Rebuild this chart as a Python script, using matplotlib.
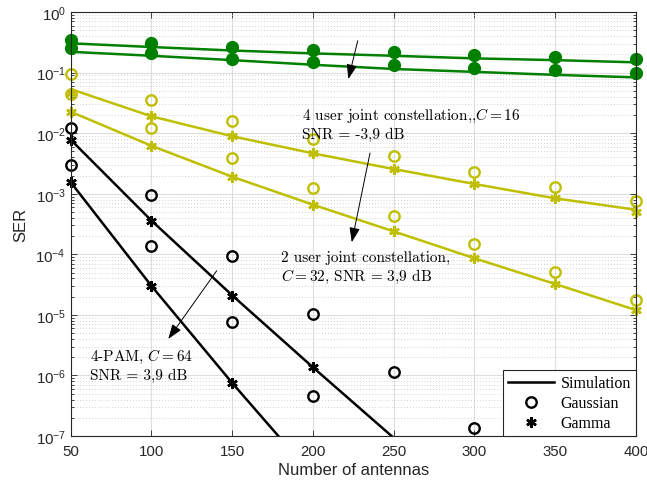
import numpy as np
import matplotlib

matplotlib.use("Agg")
import matplotlib.pyplot as plt
from matplotlib.lines import Line2D
from matplotlib.ticker import LogLocator, NullFormatter

plt.rcParams["font.family"] = ["Liberation Sans", "DejaVu Sans"]
plt.rcParams["mathtext.fontset"] = "custom"
plt.rcParams["mathtext.rm"] = "Liberation Sans"
plt.rcParams["mathtext.it"] = "Liberation Sans:italic"

antennas = np.array([50, 100, 150, 200, 250, 300, 350, 400])

# 4 user joint constellation, C = 16, SNR = -3.9 dB (two curves)
c16_sim_a = [0.305, 0.265, 0.232, 0.208, 0.190, 0.172, 0.161, 0.148]
c16_pts_a = [0.349, 0.304, 0.261, 0.239, 0.216, 0.195, 0.183, 0.168]
c16_sim_b = [0.221, 0.190, 0.161, 0.135, 0.115, 0.103, 0.092, 0.0835]
c16_pts_b = [0.251, 0.208, 0.168, 0.151, 0.133, 0.119, 0.109, 0.098]

# 2 user joint constellation, C = 32, SNR = 3.9 dB
c32_sim_a = [0.0535, 0.019, 8.9e-3, 4.65e-3, 2.56e-3, 1.45e-3, 8.4e-4, 5.45e-4]
c32_gauss_a = [0.0947, 0.0357, 0.0160, 8.0e-3, 4.24e-3, 2.31e-3, 1.28e-3, 7.5e-4]
c32_gamma_a = [0.0459, 0.019, 8.9e-3, 4.65e-3, 2.56e-3, 1.45e-3, 8.4e-4, 5.05e-4]
c32_sim_b = [0.0226, 6.2e-3, 1.91e-3, 6.6e-4, 2.39e-4, 8.6e-5, 3.23e-5, 1.2e-5]
c32_gauss_b = [0.0450, 0.0122, 3.84e-3, 1.24e-3, 4.24e-4, 1.48e-4, 5.15e-5, 1.78e-5]
c32_gamma_b = [0.0226, 6.2e-3, 1.91e-3, 6.6e-4, 2.39e-4, 8.6e-5, 3.23e-5, 1.2e-5]

# 4-PAM, C = 64, SNR = 3.9 dB
nan = np.nan
c64_sim_a = [7.8e-3, 3.6e-4, 2.1e-5, 1.36e-6, 9.3e-8, nan, nan, nan]
c64_gauss_a = [0.0122, 9.6e-4, 9.5e-5, 1.03e-5, 1.15e-6, 1.34e-7, nan, nan]
c64_gamma_a = [7.8e-3, 3.6e-4, 2.07e-5, 1.36e-6, nan, nan, nan, nan]
c64_sim_b = [1.55e-3, 3.0e-5, 7.5e-7, 2.2e-8, nan, nan, nan, nan]
c64_gauss_b = [3.0e-3, 1.39e-4, 7.5e-6, 4.6e-7, nan, nan, nan, nan]
c64_gamma_b = [1.55e-3, 2.96e-5, 7.5e-7, nan, nan, nan, nan, nan]

GREEN = "#008000"
YELLOW = "#bfbf00"
BLACK = "#000000"
AXIS = "#262626"

ASTERISK = (6, 2, 0)
line_kw = dict(lw=1.8, solid_capstyle="butt")
gauss_kw = dict(ls="none", marker="o", ms=7.5, mfc="none", mew=1.7)
gamma_kw = dict(ls="none", marker=ASTERISK, ms=7.5, mew=1.8)

fig = plt.figure(figsize=(6.47, 4.85), dpi=100)
ax = fig.add_axes([0.1093, 0.099, 0.8737, 0.874])

# green group: both approximations drawn as filled dots
for sim, pts in [(c16_sim_a, c16_pts_a), (c16_sim_b, c16_pts_b)]:
    ax.plot(antennas, sim, color=GREEN, **line_kw)
    ax.plot(antennas, pts, ls="none", marker="o", ms=8.5, color=GREEN, mec=GREEN,
            clip_on=False)

for color, groups in [
    (YELLOW, [(c32_sim_a, c32_gauss_a, c32_gamma_a), (c32_sim_b, c32_gauss_b, c32_gamma_b)]),
    (BLACK, [(c64_sim_a, c64_gauss_a, c64_gamma_a), (c64_sim_b, c64_gauss_b, c64_gamma_b)]),
]:
    for sim, gauss, gamma in groups:
        ax.plot(antennas, sim, color=color, **line_kw)
        ax.plot(antennas, gauss, color=color, mec=color, clip_on=False, **gauss_kw)
        ax.plot(antennas, gamma, color=color, mec=color, clip_on=False, **gamma_kw)

ax.set_yscale("log")
ax.set_xlim(50, 400)
ax.set_ylim(1e-7, 1)
ax.set_xticks(antennas)
ax.yaxis.set_major_locator(LogLocator(base=10, numticks=10))
ax.yaxis.set_minor_locator(LogLocator(base=10, subs=np.arange(2, 10), numticks=20))
ax.yaxis.set_minor_formatter(NullFormatter())

ax.grid(which="major", color="#dedede", lw=0.8, ls="-")
ax.grid(which="minor", axis="y", color="#c4c4c4", lw=0.6, ls=(0, (1, 2.5)))
ax.set_axisbelow(True)

ax.tick_params(which="both", direction="in", top=True, right=True, colors=AXIS,
               labelsize=10.8, labelcolor=AXIS)
ax.tick_params(which="major", length=4.5, width=0.6)
ax.tick_params(which="minor", length=2.5, width=0.6)
ax.tick_params(axis="x", which="major", pad=6)
for s in ax.spines.values():
    s.set_color(AXIS)
    s.set_linewidth(0.8)

ax.set_xlabel("Number of antennas", fontsize=12, color=AXIS, labelpad=3)
ax.set_ylabel("SER", fontsize=12, color=AXIS, labelpad=5)

# annotations
txt_kw = dict(fontsize=11, family="cmr10", math_fontfamily="cm", va="center", linespacing=1.25)
ax.text(193, 0.0147, "4 user joint constellation,,$C = 16$\nSNR = -3,9 dB", **txt_kw)
ax.text(180.5, 6.0e-5, "2 user joint constellation,\n$C = 32$, SNR = 3,9 dB", **txt_kw)
ax.text(62, 1.5e-6, "4-PAM, $C = 64$\nSNR = 3,9 dB", **txt_kw)

arrow_kw = dict(arrowstyle="-|>,head_length=0.9,head_width=0.32", color="k", lw=0.7,
                mutation_scale=10, shrinkA=0, shrinkB=0)
for tip, start in [((221.9, 0.0783), (227.7, 0.336)),
                   ((224.0, 1.58e-4), (235.3, 4.7e-3)),
                   ((110.4, 4.0e-6), (140.4, 5.36e-5))]:
    ax.annotate("", xy=tip, xytext=start, arrowprops=arrow_kw)

handles = [
    Line2D([], [], color=BLACK, lw=1.8),
    Line2D([], [], color=BLACK, **gauss_kw),
    Line2D([], [], color=BLACK, **gamma_kw),
]
leg = ax.legend(handles, ["Simulation", "Gaussian", "Gamma"], loc="lower right",
                bbox_to_anchor=(1, 0), borderaxespad=0, fancybox=False,
                prop={"family": "Liberation Serif", "size": 11.5}, handlelength=2.9,
                handletextpad=0.4, labelspacing=0.25, borderpad=0.3, framealpha=1)
leg.get_frame().set_edgecolor(AXIS)
leg.get_frame().set_linewidth(0.8)
leg.set_zorder(5)

fig.savefig("out.png", dpi=100)
